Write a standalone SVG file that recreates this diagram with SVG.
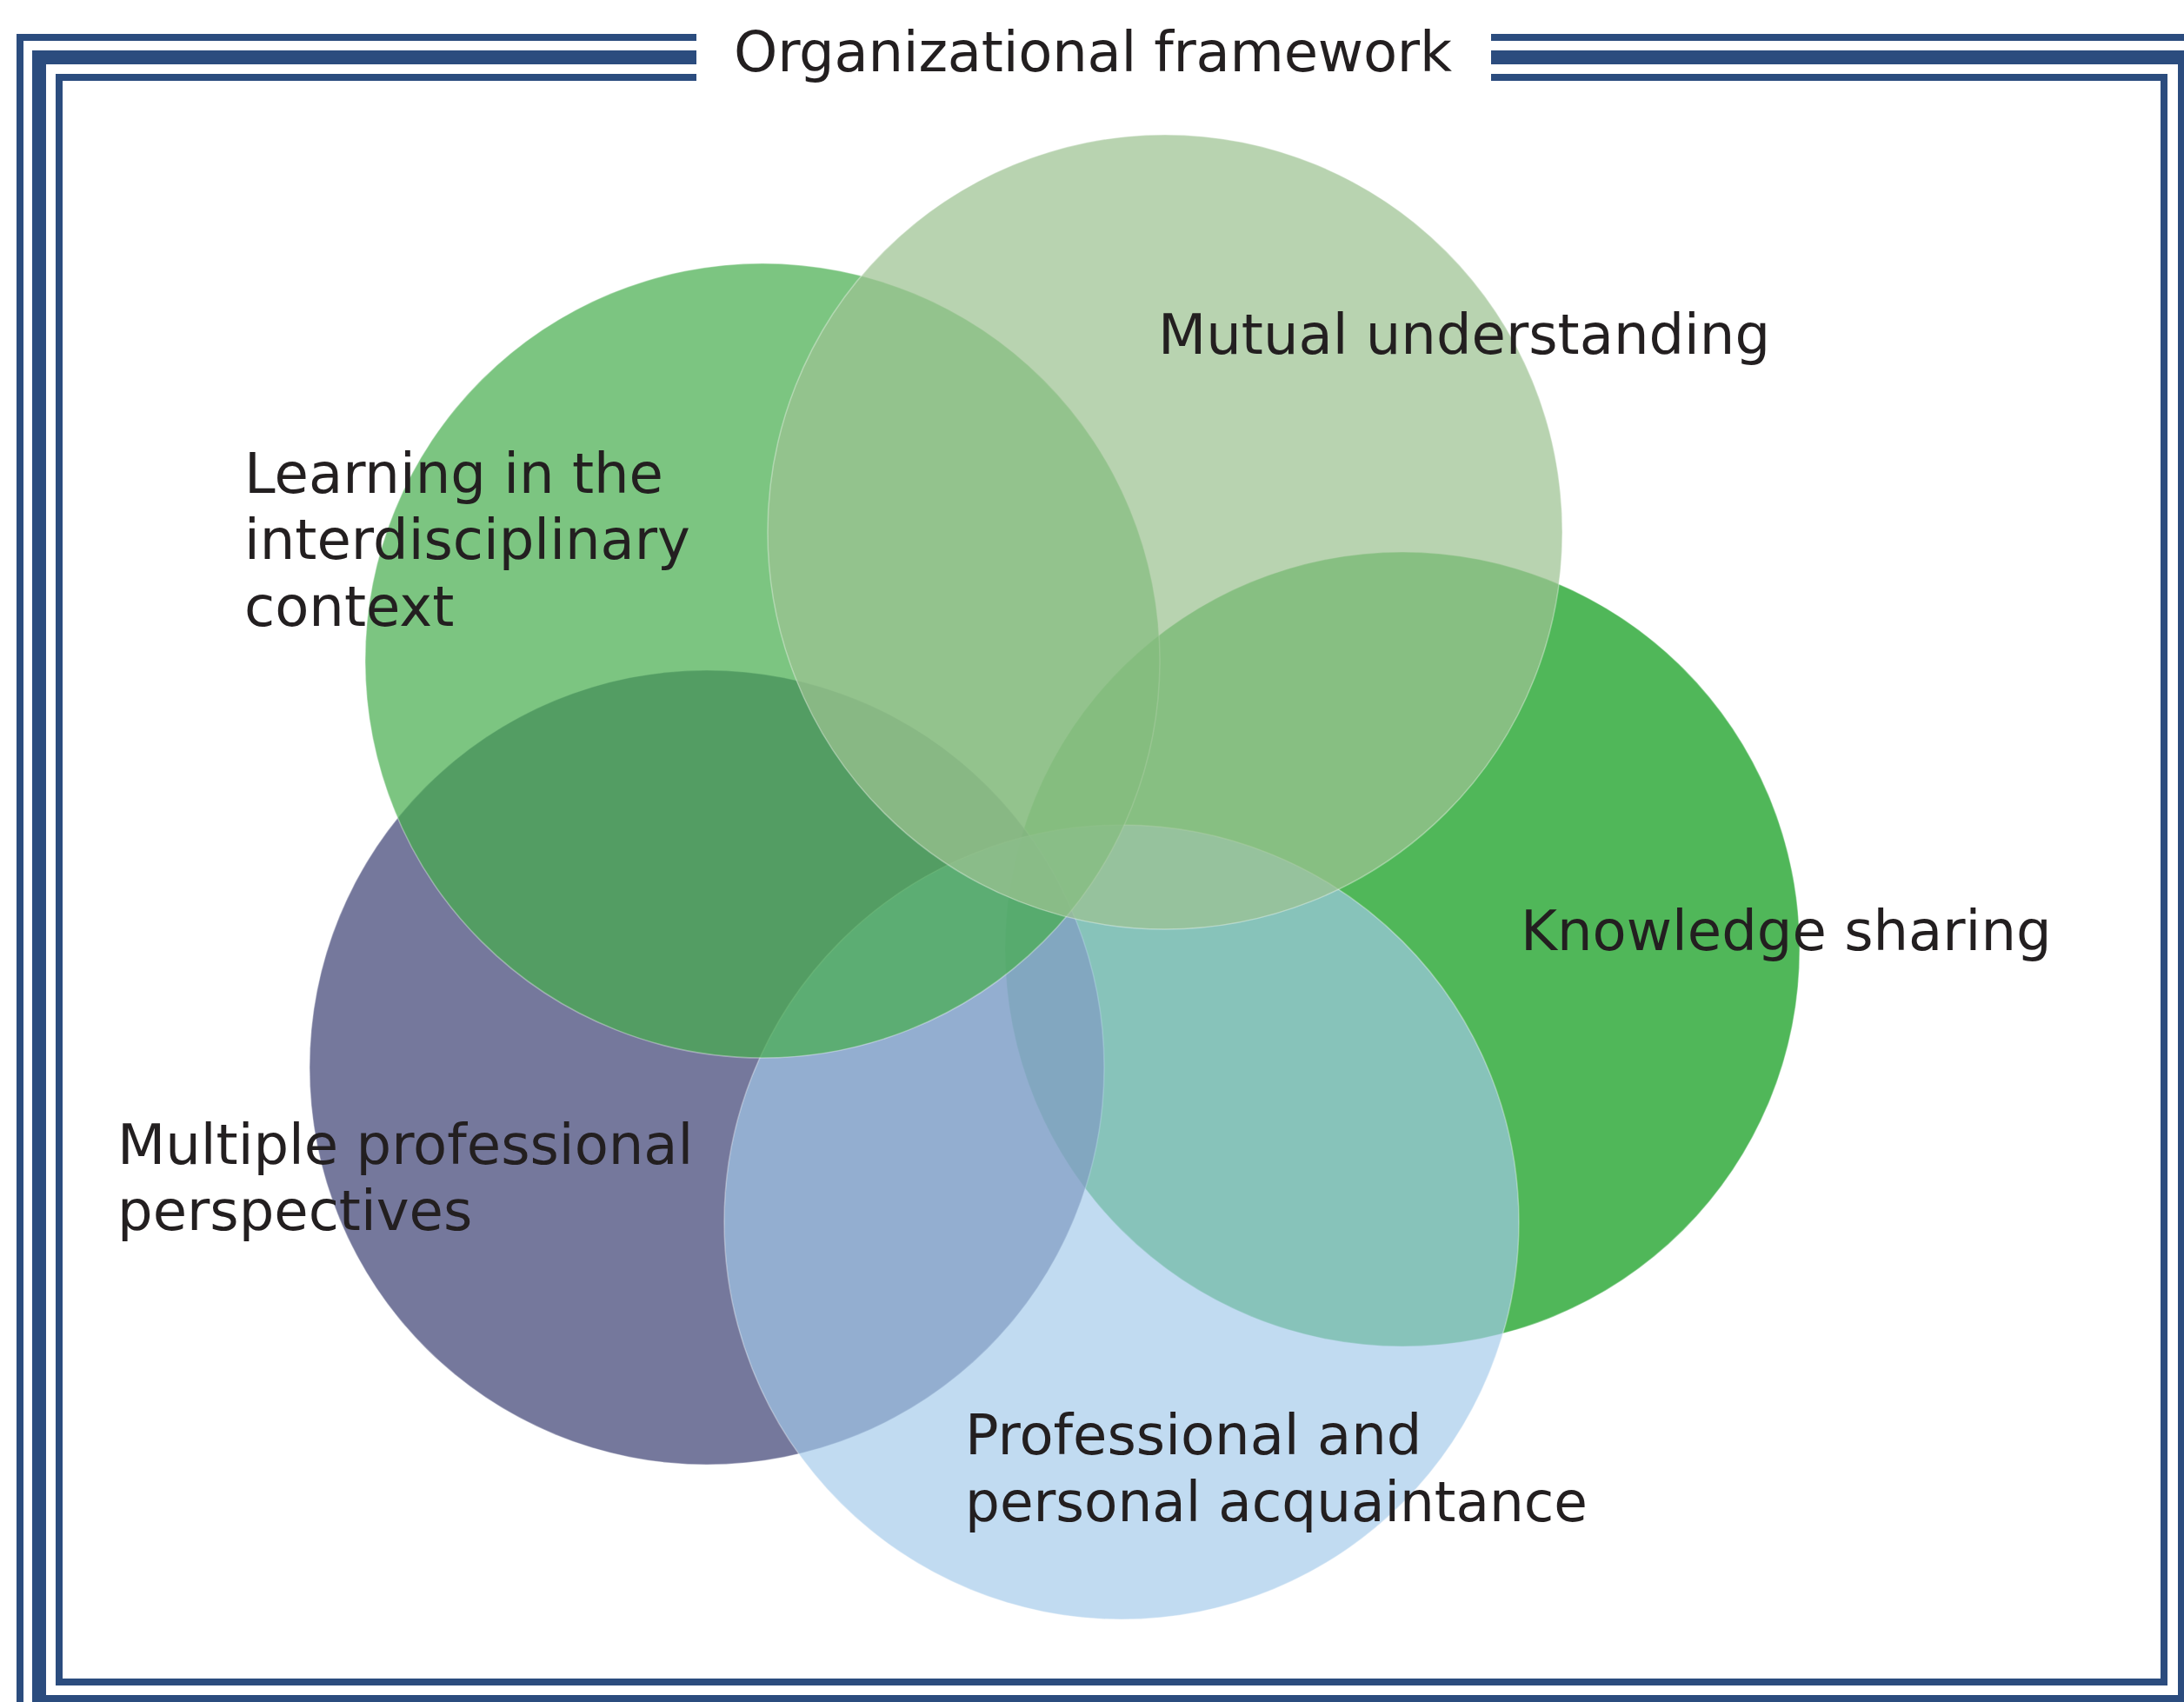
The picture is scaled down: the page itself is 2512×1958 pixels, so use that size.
<svg xmlns="http://www.w3.org/2000/svg" width="2512" height="1958" viewBox="0 0 2512 1958">
  <style>
    .frame { fill: none; stroke: #2b4c7e; }
    .lbl { font-family: "DejaVu Sans", "Liberation Sans", sans-serif; font-size: 64px; fill: #231f20; }
    .edge { stroke: #ffffff; stroke-opacity: 0.35; stroke-width: 1.5; }
  </style>
  <rect width="2512" height="1958" fill="#ffffff"/>
  <g id="frame">
    <rect class="frame" x="23" y="43" width="2512" height="1942" stroke-width="8"/>
    <rect class="frame" x="45" y="66" width="2468" height="1892" stroke-width="16"/>
    <rect class="frame" x="68" y="89" width="2421" height="1846" stroke-width="8"/>
    <rect x="801" y="30" width="914" height="70" fill="#ffffff"/>
  </g>
  <g id="title">
    <text class="lbl" x="844" y="82" font-size="63" textLength="826" lengthAdjust="spacing">Organizational framework</text>
  </g>
  <g id="knowledge-sharing">
    <circle class="edge" cx="1613" cy="1092" r="457" fill="#059813" fill-opacity="0.7"/>
    <text class="lbl" x="1749" y="1093">Knowledge sharing</text>
  </g>
  <g id="multiple-perspectives">
    <circle class="edge" cx="813" cy="1228" r="457" fill="#3b3e72" fill-opacity="0.7"/>
    <text class="lbl" x="135" y="1339">Multiple professional</text>
    <text class="lbl" x="135" y="1415">perspectives</text>
  </g>
  <g id="acquaintance">
    <circle class="edge" cx="1290" cy="1406" r="457" fill="#a2c9ea" fill-opacity="0.67"/>
    <text class="lbl" x="1110" y="1673">Professional and</text>
    <text class="lbl" x="1110" y="1750" textLength="716" lengthAdjust="spacingAndGlyphs">personal acquaintance</text>
  </g>
  <g id="learning">
    <circle class="edge" cx="877" cy="760" r="457" fill="#45ac4c" fill-opacity="0.7"/>
    <text class="lbl" x="281" y="567">Learning in the</text>
    <text class="lbl" x="281" y="643">interdisciplinary</text>
    <text class="lbl" x="281" y="720">context</text>
  </g>
  <g id="mutual-understanding">
    <circle class="edge" cx="1340" cy="612" r="457" fill="#9cc291" fill-opacity="0.72"/>
    <text class="lbl" x="1332" y="407">Mutual understanding</text>
  </g>
  <g id="connectors"/>
</svg>
